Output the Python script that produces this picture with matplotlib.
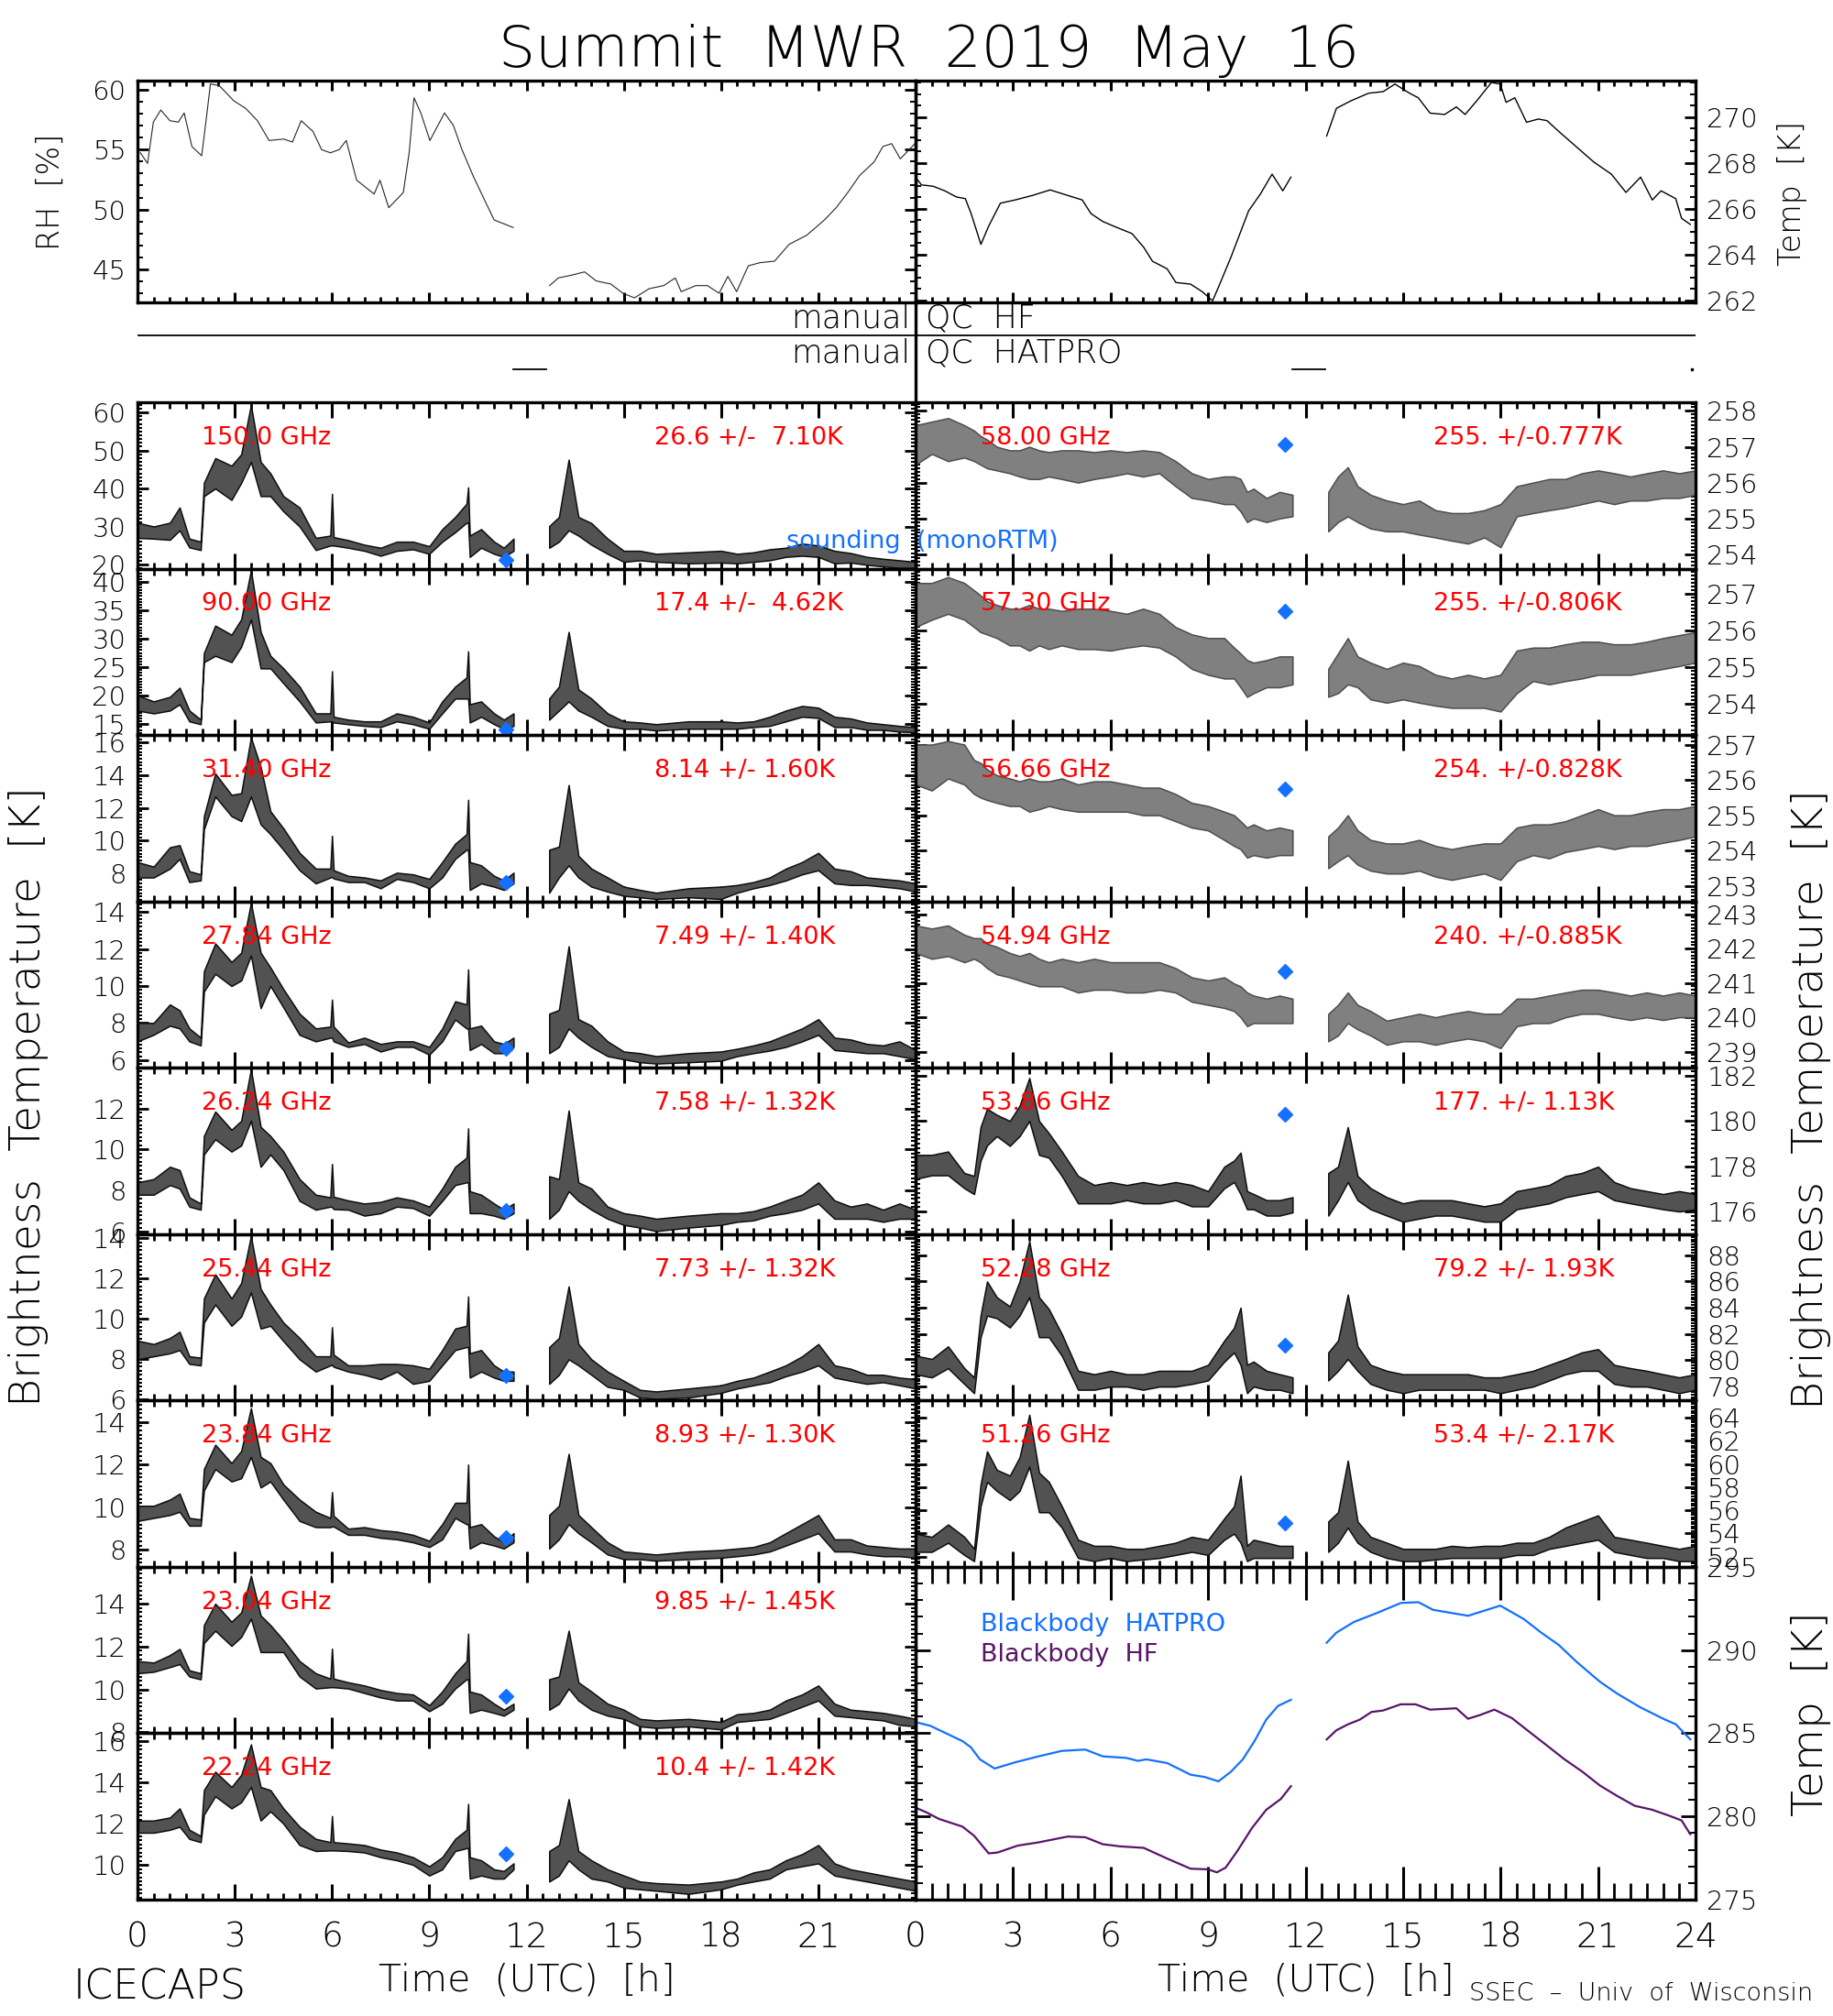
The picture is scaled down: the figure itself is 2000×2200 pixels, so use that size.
import numpy as np
import matplotlib
matplotlib.use("Agg")
import matplotlib.pyplot as plt
from matplotlib.ticker import MultipleLocator, FormatStrFormatter
from matplotlib.lines import Line2D

plt.rcParams['font.family'] = ['DejaVu Sans']
plt.rcParams['font.weight'] = 'light'

# ------------------------------------------------------------------ data
# top panels
rh_t = [0.09, 0.31, 0.49, 0.72, 1.0, 1.26, 1.44, 1.68, 1.98, 2.11, 2.25, 2.52, 2.97, 3.34, 3.70, 4.06, 4.51, 4.78, 5.05, 5.41,
        5.68, 5.95, 6.22, 6.44, 6.76, 7.30, 7.48, 7.75, 8.20, 8.38, 8.53, 8.74, 9.02, 9.47, 9.74, 10.01, 10.37, 10.73, 11.00, 11.36,
        11.59, 12.71, 12.98, 13.43, 13.79, 14.15, 14.60, 14.97, 15.33, 15.78, 16.23, 16.59, 16.77, 17.22, 17.58, 17.94, 18.21,
        18.48, 18.84, 19.20, 19.65, 20.10, 20.64, 21.19, 21.55, 21.91, 22.27, 22.72, 22.99, 23.26, 23.53, 23.80, 23.98]
rh_val = [54.75, 53.86, 57.32, 58.34, 57.44, 57.32, 58.09, 55.27, 54.50, 57.32, 60.52, 60.39, 59.11, 58.47, 57.44, 55.78, 55.90,
          55.65, 57.44, 56.55, 55.01, 54.75, 55.01, 55.78, 52.45, 51.29, 52.45, 50.14, 51.42, 54.75, 59.36, 58.09, 55.78, 58.09,
          57.06, 55.01, 52.71, 50.65, 49.12, 48.73, 48.48, 43.61, 44.25, 44.51, 44.76, 44.0, 43.74, 42.97, 42.58, 43.35, 43.61,
          44.25, 43.1, 43.61, 43.61, 42.97, 44.38, 43.1, 45.27, 45.53, 45.66, 47.07, 47.83, 49.12, 50.14, 51.42, 52.83, 53.98,
          55.27, 55.52, 54.24, 55.01, 55.52]

tair_t = [0, 0.18, 0.54, 0.9, 1.26, 1.53, 1.71, 2.01, 2.25, 2.61, 3.06, 3.6, 4.14, 4.68, 5.13, 5.4, 5.76, 6.12, 6.66, 7.02,
          7.29, 7.74, 8.01, 8.46, 8.82, 9.14, 9.36, 9.71, 10.25, 10.61, 10.97, 11.3, 11.55, 12.65, 12.95, 13.4, 13.94, 14.39,
          14.75, 15.2, 15.47, 15.83, 16.28, 16.64, 16.91, 17.27, 17.72, 17.99, 18.17, 18.44, 18.8, 19.16, 19.43, 19.79, 20.33,
          20.87, 21.41, 21.86, 22.31, 22.67, 22.94, 23.39, 23.57, 23.84]
tair_val = [267.38, 267.04, 266.98, 266.78, 266.51, 266.44, 265.78, 264.44, 265.24, 266.24, 266.38, 266.58, 266.82, 266.58,
            266.38, 265.78, 265.44, 265.22, 264.91, 264.31, 263.70, 263.37, 262.77, 262.70, 262.37, 261.97, 262.70, 263.90,
            265.91, 266.64, 267.51, 266.78, 267.38, 269.18, 270.39, 270.72, 271.05, 271.12, 271.45, 271.05, 270.85, 270.18,
            270.12, 270.45, 270.12, 270.72, 271.52, 271.45, 270.65, 270.85, 269.78, 269.92, 269.85, 269.38, 268.71, 268.04,
            267.51, 266.71, 267.38, 266.38, 266.78, 266.44, 265.58, 265.31]

# QC flags
qc_hf_t = [0, 24]
qc_hatpro_t = [11.6, 12.6]

# blackbody temperatures
bbh_t = [0, 0.45, 1.44, 1.7, 1.98, 2.43, 3.06, 3.78, 4.5, 5.22, 5.76, 6.48, 6.84, 7.1, 7.74, 8.46, 8.9, 9.32, 9.71, 10.07,
         10.43, 10.79, 11.15, 11.55, 12.65, 12.95, 13.49, 14.21, 14.93, 15.47, 15.92, 17.0, 17.99, 18.71, 19.25, 19.79, 20.33,
         21.05, 21.59, 22.31, 23.03, 23.39, 23.84]
bbh_val = [285.67, 285.45, 284.53, 284.16, 283.43, 282.88, 283.25, 283.61, 283.94, 284.02, 283.61, 283.52, 283.34, 283.43,
           283.21, 282.51, 282.37, 282.11, 282.70, 283.43, 284.53, 285.82, 286.64, 287.01, 290.44, 291.05, 291.69, 292.24,
           292.83, 292.88, 292.42, 292.06, 292.67, 291.87, 291.05, 290.31, 289.31, 288.11, 287.38, 286.55, 285.85, 285.54, 284.63]
bbf_t = [0, 0.36, 0.72, 1.44, 1.8, 2.25, 2.52, 3.15, 3.78, 4.68, 5.22, 5.76, 6.3, 7.02, 7.74, 8.46, 9.0, 9.27, 9.54, 9.9,
         10.35, 10.79, 11.24, 11.55, 12.65, 12.95, 13.31, 13.67, 14.03, 14.39, 14.93, 15.38, 15.83, 16.64, 17.0, 17.36, 17.81,
         18.35, 18.89, 19.43, 19.97, 20.51, 21.05, 21.59, 22.13, 22.67, 23.21, 23.57, 23.84]
bbf_val = [280.53, 280.22, 279.85, 279.39, 278.84, 277.78, 277.83, 278.25, 278.44, 278.79, 278.75, 278.33, 278.20, 278.11,
           277.47, 276.86, 276.82, 276.64, 276.92, 277.92, 279.30, 280.40, 281.05, 281.82, 284.63, 285.18, 285.54, 285.82,
           286.28, 286.37, 286.74, 286.74, 286.42, 286.50, 285.87, 286.09, 286.42, 285.91, 285.08, 284.26, 283.43, 282.70,
           281.87, 281.23, 280.64, 280.40, 280.03, 279.76, 278.93]

# HF channels (left column): time grid, lower / upper envelope of the noisy trace
t_left = [0, 0.5, 1.0, 1.3, 1.6, 1.95, 2.05, 2.4, 2.9, 3.2, 3.5, 3.8, 4.1, 4.5, 5.0, 5.5, 5.95, 6.0, 6.05, 6.5, 7.0, 7.5,
          8.0, 8.5, 9.0, 9.4, 9.8, 10.15, 10.2, 10.25, 10.6, 11.0, 11.3, 11.6, 12.7, 13.0, 13.3, 13.6, 14.0, 14.5, 15.0, 15.5,
          16.0, 17.0, 18.0, 18.5, 19.0, 19.5, 20.0, 20.5, 21.0, 21.5, 22.0, 22.5, 23.0, 23.5, 24.0]

tb150_lo = [27, 26.8, 26.5, 29, 24.5, 23.8, 38, 40, 37, 41.5, 47, 38, 38, 34, 30, 23.8, 25, 25, 25, 24.4, 23.6, 22.3, 23.6, 24, 22.8, 26, 28.5, 31, 31, 22, 24.4, 22.8, 22, 23.6, 24.4, 26, 29, 27.6, 25.2, 22.8, 20.7, 21.1, 20.7, 20.3, 20.5, 20.3, 20.7, 21.1, 22, 22.3, 22, 20.3, 20.5, 19.9, 19.5, 19.1, 19.1]
tb150_hi = [31, 30, 31, 35, 26.8, 26, 41.5, 48, 46, 49, 62, 47, 44, 38, 35, 27, 27.6, 38.6, 27.2, 26.4, 25.2, 24.4, 26, 26, 24.8, 29.3, 32.5, 36, 40.3, 27.6, 29.3, 26, 24.4, 26.8, 30.1, 32.5, 47.6, 32.5, 30.9, 26.8, 23.6, 23.6, 22.8, 23.2, 23.6, 22.8, 23.2, 24, 24.4, 25.5, 25, 23.6, 23, 22, 21.5, 21.1, 20.7]
tb90_lo = [17.4, 16.9, 17.4, 18.5, 15.5, 15, 25.9, 27, 25.9, 28.6, 33.4, 24.8, 24.8, 22.2, 19, 15.3, 15.5, 15.5, 15.3, 15, 14.7, 14.5, 15.5, 15, 14.2, 16.9, 19.5, 19.5, 19.5, 15.3, 16.3, 15, 14.2, 14.7, 15.8, 17.4, 19, 17.4, 16.3, 14.7, 14.2, 14.2, 13.9, 14.2, 14.2, 14.2, 14.5, 14.7, 15.5, 16.3, 16.1, 14.5, 14.5, 14, 14, 13.7, 13.6]
tb90_hi = [20.05, 19, 19.8, 21.4, 17.4, 15.8, 27.5, 32.3, 30.7, 33.4, 42, 31.2, 27, 24.8, 21.6, 16.9, 16.9, 24.3, 16.3, 15.8, 15.5, 15.5, 16.9, 16.3, 15.3, 19, 21.6, 23.2, 27.8, 18.5, 19, 16.9, 15.8, 16.9, 19.5, 21.6, 31.2, 21.1, 19.5, 16.9, 15.5, 15.3, 15, 15.5, 15.5, 15.3, 15.5, 16.3, 17.4, 18.2, 17.9, 16.3, 16, 15.3, 15, 14.7, 14.5]
tb314_lo = [7.76, 7.76, 8.3, 8.9, 7.48, 7.58, 10.7, 12.7, 11.5, 11.2, 12.7, 11.0, 10.4, 9.45, 8.2, 7.4, 7.76, 7.8, 7.7, 7.48, 7.48, 7.1, 7.67, 7.48, 7.1, 7.76, 8.9, 9.45, 9.45, 7.0, 7.4, 7.2, 7.0, 7.4, 6.83, 7.76, 8.5, 7.76, 7.2, 6.9, 6.64, 6.55, 6.45, 6.55, 6.45, 6.83, 7.1, 7.3, 7.58, 7.95, 8.2, 7.4, 7.3, 7.3, 7.2, 7.1, 6.9]
tb314_hi = [8.7, 8.42, 9.6, 9.73, 8.14, 7.95, 11.5, 14.1, 12.8, 12.9, 16.3, 14.5, 11.8, 10.76, 9.26, 8.3, 8.3, 10.3, 8.2, 7.86, 7.76, 7.58, 8.05, 7.95, 7.67, 8.7, 9.82, 10.4, 12.5, 8.7, 8.5, 7.86, 7.58, 8.05, 9.45, 9.64, 13.4, 9.08, 8.3, 7.76, 7.2, 7.0, 6.83, 7.1, 7.2, 7.3, 7.48, 7.76, 8.3, 8.7, 9.26, 8.3, 8.14, 7.76, 7.67, 7.58, 7.4]
tb2784_lo = [7.0, 7.36, 7.85, 7.7, 7.0, 6.78, 9.7, 10.66, 10.0, 10.3, 11.65, 8.8, 10.0, 8.84, 7.35, 7.0, 7.2, 7.2, 7.0, 6.7, 6.86, 6.45, 6.7, 6.7, 6.28, 7.0, 8.18, 7.7, 7.7, 6.53, 6.86, 6.36, 6.36, 6.7, 6.36, 6.7, 7.7, 7.2, 6.7, 6.2, 6.03, 5.87, 5.8, 5.87, 5.95, 6.2, 6.36, 6.5, 6.7, 7.0, 7.35, 6.53, 6.45, 6.36, 6.36, 6.2, 6.03]
tb2784_hi = [8.0, 8.0, 9.0, 8.68, 7.7, 7.2, 10.8, 12.3, 11.3, 11.8, 14.5, 11.8, 11.0, 9.83, 8.5, 7.7, 7.8, 9.26, 7.8, 6.94, 7.2, 6.86, 7.0, 7.0, 6.7, 7.7, 9.17, 9.0, 10.9, 7.7, 7.85, 7.0, 6.86, 7.2, 8.5, 8.7, 12.15, 8.2, 7.85, 7.0, 6.45, 6.36, 6.2, 6.36, 6.45, 6.6, 6.78, 7.0, 7.35, 7.7, 8.2, 7.2, 7.1, 6.86, 6.78, 7.0, 6.53]
tb2624_lo = [7.8, 7.8, 8.27, 8.1, 7.22, 7.07, 9.76, 10.5, 9.9, 10.2, 11.4, 9.16, 9.76, 9.0, 7.5, 7.07, 7.22, 7.2, 7.1, 7.07, 6.78, 6.9, 7.22, 7.15, 6.78, 7.5, 8.27, 8.4, 8.4, 6.9, 6.9, 6.78, 6.63, 6.9, 6.63, 7.07, 7.97, 7.5, 7.07, 6.63, 6.33, 6.2, 6.03, 6.2, 6.33, 6.48, 6.55, 6.78, 6.9, 7.07, 7.37, 6.63, 6.63, 6.63, 6.48, 6.63, 6.63]
tb2624_hi = [8.4, 8.56, 9.16, 9.0, 7.67, 7.37, 10.66, 11.85, 10.96, 11.4, 13.9, 11.1, 10.66, 9.9, 8.56, 7.8, 7.67, 9.3, 7.7, 7.52, 7.37, 7.45, 7.67, 7.52, 7.22, 8.1, 9.16, 9.6, 11.03, 7.97, 7.8, 7.37, 7.07, 7.37, 8.7, 8.56, 11.9, 8.4, 8.1, 7.22, 6.9, 6.78, 6.63, 6.78, 6.9, 6.9, 7.0, 7.22, 7.52, 7.8, 8.4, 7.52, 7.22, 7.37, 7.07, 7.37, 7.07]
tb2544_lo = [7.97, 8.12, 8.27, 8.43, 7.74, 7.67, 9.8, 10.7, 9.64, 10.1, 11.3, 9.5, 9.64, 8.88, 7.97, 7.36, 7.67, 7.7, 7.6, 7.36, 7.2, 6.98, 7.36, 6.75, 6.9, 7.67, 8.43, 8.58, 8.58, 7.06, 7.36, 7.06, 6.9, 6.9, 6.75, 7.2, 7.97, 7.67, 7.2, 6.6, 6.45, 6.07, 6.0, 6.07, 6.3, 6.52, 6.68, 6.83, 7.13, 7.36, 7.67, 7.06, 6.9, 6.75, 6.83, 6.68, 6.52]
tb2544_hi = [8.9, 8.73, 9.03, 9.34, 8.12, 8.05, 11.0, 12.2, 11.0, 11.77, 14.1, 11.47, 10.7, 9.8, 9.03, 8.12, 8.12, 9.57, 8.2, 7.67, 7.67, 7.74, 7.74, 7.67, 7.5, 8.43, 9.5, 9.64, 11.1, 8.27, 8.43, 7.67, 7.36, 7.36, 8.58, 9.03, 11.6, 8.73, 7.97, 7.36, 6.9, 6.45, 6.37, 6.52, 6.68, 6.9, 7.06, 7.36, 7.67, 8.12, 8.73, 7.67, 7.5, 7.2, 7.2, 7.06, 6.98]
tb2384_lo = [9.36, 9.5, 9.64, 9.79, 9.14, 9.14, 10.79, 11.79, 11.21, 11.36, 12.36, 10.93, 11.21, 10.36, 9.36, 9.07, 9.07, 9.1, 9.1, 8.71, 8.71, 8.57, 8.5, 8.36, 8.14, 8.5, 9.5, 9.21, 9.21, 8.07, 8.36, 8.21, 8.07, 8.36, 8.07, 8.5, 9.21, 8.79, 8.36, 7.79, 7.57, 7.57, 7.5, 7.57, 7.64, 7.71, 7.79, 7.93, 8.21, 8.5, 8.79, 7.93, 7.93, 7.79, 7.71, 7.71, 7.64]
tb2384_hi = [10.07, 10.07, 10.36, 10.64, 9.5, 9.43, 11.79, 12.93, 12.07, 12.64, 14.64, 12.36, 12.07, 11.07, 10.36, 9.79, 9.5, 10.71, 9.6, 9.0, 9.07, 8.93, 8.86, 8.71, 8.43, 9.21, 10.21, 10.21, 12.0, 9.07, 9.21, 8.64, 8.36, 8.79, 9.64, 10.07, 12.5, 9.64, 9.07, 8.36, 7.93, 7.86, 7.79, 7.93, 8.0, 8.07, 8.14, 8.36, 8.79, 9.21, 9.64, 8.5, 8.5, 8.21, 8.14, 8.07, 8.07]
tb2304_lo = [10.75, 10.82, 11.04, 11.18, 10.6, 10.47, 12.17, 12.74, 12.03, 12.45, 13.3, 11.74, 11.74, 11.74, 10.6, 10.04, 10.1, 10.1, 10.1, 10.04, 9.83, 9.62, 9.48, 9.48, 8.98, 9.33, 10.04, 10.47, 10.47, 8.9, 9.05, 8.9, 8.77, 9.05, 9.05, 9.33, 10.04, 9.48, 9.05, 8.77, 8.62, 8.27, 8.2, 8.27, 8.13, 8.48, 8.55, 8.62, 8.9, 9.19, 9.48, 8.77, 8.7, 8.62, 8.55, 8.34, 8.27]
tb2304_hi = [11.32, 11.25, 11.6, 11.89, 10.89, 10.75, 13.0, 14.0, 13.16, 13.59, 15.3, 13.45, 13.0, 12.3, 11.32, 10.75, 10.5, 11.9, 10.5, 10.33, 10.18, 9.97, 9.83, 9.76, 9.26, 9.9, 10.75, 11.32, 12.6, 9.9, 9.76, 9.33, 9.05, 9.33, 10.47, 10.6, 12.74, 10.33, 9.9, 9.33, 9.05, 8.62, 8.55, 8.62, 8.48, 8.84, 8.9, 9.05, 9.48, 9.76, 10.18, 9.33, 9.05, 8.98, 8.9, 8.77, 8.62]
tb2224_lo = [11.56, 11.56, 11.7, 11.85, 11.26, 11.1, 12.44, 13.33, 12.74, 13.04, 13.78, 12.15, 12.6, 12.0, 10.96, 10.67, 10.7, 10.7, 10.7, 10.67, 10.6, 10.37, 10.22, 10.0, 9.48, 9.78, 10.67, 10.81, 10.81, 9.33, 9.48, 9.33, 9.33, 9.78, 9.19, 9.48, 10.22, 9.78, 9.33, 9.19, 8.89, 8.81, 8.74, 8.59, 8.81, 9.04, 9.19, 9.33, 9.78, 9.93, 10.07, 9.48, 9.33, 9.19, 9.04, 8.89, 8.74]
tb2224_hi = [12.15, 12.15, 12.3, 12.74, 11.7, 11.4, 13.63, 14.52, 13.78, 14.37, 15.85, 13.78, 13.63, 12.74, 11.85, 11.26, 11.1, 12.37, 11.1, 11.04, 10.96, 10.74, 10.6, 10.37, 9.93, 10.37, 11.26, 11.7, 12.96, 10.37, 10.22, 9.78, 9.7, 10.07, 10.67, 10.96, 13.19, 10.67, 10.22, 9.78, 9.48, 9.19, 9.11, 9.04, 9.19, 9.33, 9.63, 9.78, 10.22, 10.52, 10.96, 10.07, 9.78, 9.63, 9.48, 9.33, 9.19]

# HATPRO channels (right column)
t_right = [0, 0.5, 1.0, 1.5, 1.8, 2.0, 2.2, 2.5, 2.9, 3.2, 3.5, 3.8, 4.1, 4.5, 5.0, 5.5, 6.0, 6.5, 7.0, 7.5, 8.0, 8.5, 9.0,
           9.5, 9.8, 10.0, 10.2, 10.4, 10.8, 11.2, 11.6, 12.7, 13.0, 13.3, 13.6, 14.0, 14.5, 15.0, 15.5, 16.0, 16.5, 17.0,
           17.5, 18.0, 18.5, 19.0, 19.5, 20.0, 20.5, 21.0, 21.5, 22.0, 22.5, 23.0, 23.5, 24.0]

tb5800_lo = [256.5, 256.8, 256.6, 256.7, 256.6, 256.5, 256.4, 256.34, 256.26, 256.17, 256.1, 256.1, 256.17, 256.1, 256.0, 256.1, 256.17, 256.26, 256.17, 256.26, 255.9, 255.57, 255.5, 255.4, 255.4, 255.2, 254.9, 255.0, 254.9, 255.0, 255.06, 254.64, 254.9, 255.06, 254.9, 254.72, 254.64, 254.64, 254.55, 254.47, 254.38, 254.3, 254.47, 254.2, 255.06, 255.15, 255.23, 255.3, 255.4, 255.5, 255.4, 255.5, 255.5, 255.57, 255.57, 255.66]
tb5800_hi = [257.6, 257.7, 257.8, 257.6, 257.45, 257.3, 257.2, 257.0, 256.9, 256.9, 257.0, 256.9, 256.85, 256.9, 256.9, 256.85, 256.9, 256.85, 256.9, 256.85, 256.6, 256.26, 256.1, 256.17, 256.17, 256.1, 255.74, 255.83, 255.57, 255.74, 255.66, 255.74, 256.17, 256.43, 255.9, 255.66, 255.5, 255.4, 255.5, 255.23, 255.15, 255.15, 255.23, 255.4, 255.9, 256.0, 256.1, 256.1, 256.26, 256.34, 256.26, 256.17, 256.26, 256.34, 256.26, 256.34]
tb5730_lo = [256.1, 256.3, 256.46, 256.3, 256.1, 255.96, 255.9, 255.8, 255.6, 255.6, 255.46, 255.6, 255.5, 255.6, 255.5, 255.5, 255.46, 255.54, 255.6, 255.54, 255.3, 254.96, 254.8, 254.7, 254.7, 254.46, 254.2, 254.3, 254.46, 254.46, 254.54, 254.2, 254.3, 254.54, 254.46, 254.13, 254.04, 254.13, 254.04, 253.96, 253.9, 253.9, 253.9, 253.8, 254.3, 254.63, 254.54, 254.63, 254.7, 254.8, 254.8, 254.8, 254.88, 254.96, 255.04, 255.13]
tb5730_hi = [257.3, 257.3, 257.46, 257.3, 257.1, 256.96, 256.8, 256.7, 256.6, 256.6, 256.7, 256.6, 256.6, 256.54, 256.6, 256.6, 256.54, 256.46, 256.6, 256.46, 256.1, 255.9, 255.8, 255.8, 255.54, 255.38, 255.2, 255.13, 255.2, 255.3, 255.3, 254.96, 255.38, 255.8, 255.3, 255.13, 254.96, 255.13, 255.04, 254.8, 254.7, 254.8, 254.7, 254.8, 255.46, 255.54, 255.54, 255.63, 255.7, 255.7, 255.63, 255.63, 255.7, 255.8, 255.88, 255.96]
tb5666_lo = [255.87, 255.7, 256.04, 255.87, 255.6, 255.5, 255.43, 255.35, 255.26, 255.26, 255.1, 255.17, 255.26, 255.17, 255.1, 255.1, 255.1, 255.1, 255.0, 255.0, 254.83, 254.65, 254.57, 254.3, 254.13, 254.04, 253.8, 253.87, 253.8, 253.87, 253.87, 253.5, 253.7, 253.87, 253.6, 253.43, 253.35, 253.35, 253.43, 253.26, 253.17, 253.26, 253.35, 253.17, 253.7, 253.87, 253.78, 253.96, 254.04, 254.13, 254.04, 254.13, 254.13, 254.22, 254.3, 254.4]
tb5666_hi = [257.0, 257.0, 257.1, 257.0, 256.56, 256.48, 256.3, 256.13, 256.04, 255.96, 256.04, 255.96, 255.96, 256.04, 255.87, 255.96, 255.96, 255.87, 255.78, 255.78, 255.6, 255.35, 255.26, 255.1, 255.0, 254.83, 254.65, 254.74, 254.57, 254.65, 254.57, 254.4, 254.65, 255.0, 254.57, 254.3, 254.2, 254.2, 254.3, 254.13, 254.04, 254.13, 254.2, 254.2, 254.65, 254.74, 254.74, 254.83, 255.0, 255.17, 255.0, 255.0, 255.1, 255.17, 255.17, 255.26]
tb5494_lo = [241.87, 241.7, 241.78, 241.6, 241.7, 241.6, 241.43, 241.25, 241.16, 241.07, 240.98, 240.9, 240.9, 240.9, 240.72, 240.8, 240.8, 240.72, 240.72, 240.8, 240.72, 240.45, 240.36, 240.27, 240.18, 240.0, 239.74, 239.83, 239.83, 239.83, 239.83, 239.3, 239.47, 239.83, 239.65, 239.47, 239.2, 239.3, 239.3, 239.2, 239.3, 239.38, 239.3, 239.1, 239.74, 239.83, 239.83, 240.0, 240.1, 240.1, 240.0, 239.92, 240.0, 239.92, 240.0, 240.0]
tb5494_hi = [242.67, 242.58, 242.67, 242.4, 242.3, 242.3, 242.14, 242.05, 241.87, 241.78, 241.87, 241.7, 241.6, 241.7, 241.6, 241.7, 241.6, 241.6, 241.6, 241.6, 241.43, 241.16, 241.07, 241.16, 240.98, 240.9, 240.72, 240.63, 240.54, 240.63, 240.54, 240.1, 240.36, 240.72, 240.36, 240.18, 239.9, 240.0, 240.1, 240.0, 240.1, 240.18, 240.1, 240.1, 240.54, 240.54, 240.63, 240.72, 240.8, 240.8, 240.72, 240.63, 240.72, 240.63, 240.72, 240.63]
tb5386_lo = [177.44, 177.6, 177.6, 177.03, 176.77, 178.25, 178.92, 179.33, 178.9, 179.33, 180.0, 178.5, 178.38, 177.57, 176.36, 176.36, 176.36, 176.5, 176.36, 176.36, 176.5, 176.23, 176.23, 177.03, 177.3, 176.77, 176.1, 176.1, 175.82, 175.82, 175.96, 175.82, 176.5, 177.3, 176.5, 176.1, 175.82, 175.55, 175.69, 175.82, 175.82, 175.69, 175.55, 175.55, 176.1, 176.23, 176.36, 176.63, 176.77, 176.9, 176.5, 176.36, 176.23, 176.1, 176.0, 176.1]
tb5386_hi = [178.5, 178.5, 178.65, 177.7, 177.57, 179.73, 180.54, 180.27, 180.0, 180.67, 181.9, 180.0, 179.46, 178.65, 177.57, 177.17, 177.3, 177.17, 177.3, 177.17, 177.3, 177.17, 176.9, 177.98, 178.25, 178.6, 176.9, 176.77, 176.5, 176.5, 176.63, 177.7, 177.98, 179.73, 177.57, 177.03, 176.63, 176.36, 176.5, 176.5, 176.5, 176.36, 176.23, 176.36, 176.9, 177.03, 177.17, 177.57, 177.7, 177.98, 177.3, 177.03, 176.9, 176.77, 176.9, 176.77]
tb5228_lo = [78.94, 78.7, 79.4, 78.2, 77.5, 81.76, 83.4, 83.2, 82.5, 83.4, 84.8, 81.76, 81.76, 80.35, 77.76, 77.76, 78.0, 78.0, 77.76, 78.0, 78.0, 78.2, 78.47, 79.9, 80.6, 79.65, 77.5, 78.0, 77.76, 77.76, 77.5, 78.47, 79.2, 80.1, 79.2, 78.2, 77.76, 77.5, 77.76, 77.76, 77.76, 77.76, 77.76, 77.5, 77.76, 78.0, 78.47, 78.94, 79.2, 79.2, 78.2, 78.0, 78.0, 77.76, 77.5, 77.76]
tb5228_hi = [80.35, 80.1, 81.06, 79.4, 78.7, 83.4, 86.0, 84.8, 84.1, 86.0, 89.06, 84.8, 83.9, 82.0, 79.2, 78.94, 79.2, 78.94, 78.94, 79.2, 79.2, 79.2, 79.65, 81.5, 82.47, 84.0, 79.65, 79.9, 79.2, 78.94, 78.7, 80.6, 81.5, 85.0, 81.06, 79.65, 79.2, 78.94, 78.94, 78.94, 78.94, 78.94, 78.7, 78.7, 78.94, 79.2, 79.65, 80.1, 80.6, 80.85, 79.65, 79.4, 79.2, 78.94, 78.7, 78.94]
tb5126_lo = [52.4, 52.4, 53.19, 52.13, 51.6, 56.35, 58.46, 57.67, 56.88, 57.67, 59.78, 55.83, 55.83, 54.5, 51.87, 51.6, 51.87, 51.6, 51.74, 51.87, 52.13, 52.4, 52.13, 53.45, 53.98, 53.19, 51.6, 51.87, 51.87, 51.87, 51.87, 52.4, 53.19, 54.5, 53.19, 52.4, 51.87, 51.6, 51.6, 51.74, 51.87, 51.87, 51.87, 51.87, 52.13, 52.13, 52.66, 52.92, 53.19, 53.45, 52.4, 52.13, 51.87, 51.87, 51.6, 51.6]
tb5126_hi = [53.98, 53.7, 54.77, 53.7, 52.66, 58.2, 61.1, 59.5, 59.0, 60.58, 64.27, 59.26, 58.46, 56.35, 53.45, 52.92, 52.92, 52.66, 52.66, 52.92, 53.19, 53.7, 53.45, 55.3, 56.35, 59.0, 52.92, 53.45, 53.19, 52.92, 52.92, 55.03, 55.83, 60.3, 55.03, 53.7, 53.19, 52.66, 52.66, 52.66, 52.92, 52.8, 52.92, 52.92, 53.19, 53.19, 53.7, 54.5, 55.03, 55.56, 53.7, 53.45, 53.19, 52.92, 52.66, 52.92]

# labels, sounding values, axis ranges
left_freq = ['150.0 GHz', '90.00 GHz', '31.40 GHz', '27.84 GHz', '26.24 GHz', '25.44 GHz', '23.84 GHz', '23.04 GHz', '22.24 GHz']
left_stats = ['26.6 +/-  7.10K', '17.4 +/-  4.62K', '8.14 +/- 1.60K', '7.49 +/- 1.40K', '7.58 +/- 1.32K',
              '7.73 +/- 1.32K', '8.93 +/- 1.30K', '9.85 +/- 1.45K', '10.4 +/- 1.42K']
left_snd = [21.1, 14.15, 7.47, 6.64, 7.02, 7.17, 8.58, 9.66, 10.53]
left_ylim = [(18.9, 62.7), (13.1, 42.3), (6.3, 16.45), (5.57, 14.58), (5.88, 13.98), (5.92, 14.2), (7.21, 15.0),
             (7.95, 15.72), (8.31, 16.39)]
left_ymaj = [10, 5, 2, 2, 2, 2, 2, 2, 2]

right_freq = ['58.00 GHz', '57.30 GHz', '56.66 GHz', '54.94 GHz', '53.86 GHz', '52.28 GHz', '51.26 GHz']
right_stats = ['255. +/-0.777K', '255. +/-0.806K', '254. +/-0.828K', '240. +/-0.885K', '177. +/- 1.13K',
               '79.2 +/- 1.93K', '53.4 +/- 2.17K']
right_snd = [257.06, 256.54, 255.75, 241.34, 180.29, 81.18, 54.87]
right_ylim = [(253.6, 258.24), (253.16, 257.69), (252.56, 257.27), (238.53, 243.37), (175.0, 182.35), (76.94, 89.6),
              (51.1, 65.5)]
right_ymaj = [1, 1, 1, 1, 2, 2, 2]

sounding_t = 11.36
data_gap = (11.65, 12.6)

xtick_vals = [0, 3, 6, 9, 12, 15, 18, 21, 24]
xtick_text_left = ['0', '3', '6', '9', '12', '15', '18', '21', '']
xtick_text_right = ['0', '3', '6', '9', '12', '15', '18', '21', '24']

left_lo = [tb150_lo, tb90_lo, tb314_lo, tb2784_lo, tb2624_lo, tb2544_lo, tb2384_lo, tb2304_lo, tb2224_lo]
left_hi = [tb150_hi, tb90_hi, tb314_hi, tb2784_hi, tb2624_hi, tb2544_hi, tb2384_hi, tb2304_hi, tb2224_hi]
right_lo = [tb5800_lo, tb5730_lo, tb5666_lo, tb5494_lo, tb5386_lo, tb5228_lo, tb5126_lo]
right_hi = [tb5800_hi, tb5730_hi, tb5666_hi, tb5494_hi, tb5386_hi, tb5228_hi, tb5126_hi]

# ------------------------------------------------------------------ styling
BLUE = '#1470ff'
RED = '#ff0000'
PURPLE = '#581468'

W, H = 2000, 2200
X0, XM, X1 = 150, 999, 1850
TOP0, TOP1 = 88, 330
CH0, CH1 = 439, 2073
NROW = 9
ROWH = (CH1 - CH0) / NROW

fig = plt.figure(figsize=(W / 100, H / 100), dpi=100)


def add_ax(x0, x1, y0, y1):
    return fig.add_axes([x0 / W, 1 - y1 / H, (x1 - x0) / W, (y1 - y0) / H])


def P(v):  # pixels -> points
    return v * 0.72


def style_ax(ax, ylim, ymaj, ymin, side, xl=(17, 7), yl=(12, 5), ysize=21):
    ax.set_xlim(0, 24)
    ax.set_ylim(*ylim)
    ax.xaxis.set_major_locator(MultipleLocator(3))
    ax.xaxis.set_minor_locator(MultipleLocator(0.5))
    ax.yaxis.set_major_locator(MultipleLocator(ymaj))
    ax.yaxis.set_minor_locator(MultipleLocator(ymin))
    ax.yaxis.set_major_formatter(FormatStrFormatter('%d'))
    ax.tick_params(axis='x', which='major', direction='in', length=P(xl[0]), width=2.2,
                   top=True, bottom=True, labelbottom=False)
    ax.tick_params(axis='x', which='minor', direction='in', length=P(xl[1]), width=2.0, top=True, bottom=True)
    ax.tick_params(axis='y', which='major', direction='in', length=P(yl[0]), width=2.0, left=True, right=True,
                   labelleft=(side == 'left'), labelright=(side == 'right'), labelsize=ysize, pad=9)
    ax.tick_params(axis='y', which='minor', direction='in', length=P(yl[1]), width=1.4, left=True, right=True)
    for s in ax.spines.values():
        s.set_linewidth(2.4)
    ax.patch.set_alpha(0)


def segments(t):
    t = np.asarray(t, dtype=float)
    before = np.where(t <= data_gap[0])[0]
    after = np.where(t >= data_gap[1])[0]
    return [s for s in (before, after) if len(s)]


def draw_band(ax, t, lo, hi, face, edge):
    t = np.asarray(t, float); lo = np.asarray(lo, float); hi = np.asarray(hi, float)
    for s in segments(t):
        ax.fill_between(t[s], lo[s], hi[s], facecolor=face, edgecolor=edge, lw=1.1, zorder=2)


def draw_line(ax, t, v, color, lw):
    t = np.asarray(t, float); v = np.asarray(v, float)
    for s in segments(t):
        ax.plot(t[s], v[s], color=color, lw=lw, zorder=2)


# ------------------------------------------------------------------ top panels
ax_rh = add_ax(X0, XM, TOP0, TOP1)
style_ax(ax_rh, (42.2, 60.8), 5, 1, 'left', xl=(11, 6), yl=(12, 6))
draw_line(ax_rh, rh_t, rh_val, '0.15', 0.8)

ax_ta = add_ax(XM, X1, TOP0, TOP1)
style_ax(ax_ta, (261.9, 271.6), 2, 0.5, 'right', xl=(11, 6), yl=(12, 6))
draw_line(ax_ta, tair_t, tair_val, 'k', 1.0)

# QC rows
for (xa, xb) in [(X0, XM), (XM, X1)]:
    axq = add_ax(xa, xb, TOP1, CH0)
    axq.set_xlim(0, 24)
    axq.set_ylim(-1, 2)
    axq.axis('off')
    axq.plot(qc_hatpro_t, [0, 0], color='k', lw=1.3)
axq_all = add_ax(X0, X1, TOP1, CH0)
axq_all.set_xlim(0, 48)
axq_all.set_ylim(-1, 2)
axq_all.axis('off')
axq_all.plot([qc_hf_t[0], qc_hf_t[1] * 2], [1, 1], color='k', lw=1.3)
axq_all.plot([47.9], [0], marker='s', ms=1.5, color='k')
fig.add_artist(Line2D([XM / W, XM / W], [1 - TOP1 / H, 1 - CH0 / H], color='k', lw=2.4))

fig.text(993 / W, 1 - 358 / H, 'manual', ha='right', va='baseline', fontsize=25)
fig.text(1010 / W, 1 - 358 / H, 'QC  HF', ha='left', va='baseline', fontsize=25)
fig.text(993 / W, 1 - 396 / H, 'manual', ha='right', va='baseline', fontsize=25)
fig.text(1010 / W, 1 - 396 / H, 'QC  HATPRO', ha='left', va='baseline', fontsize=25)

# ------------------------------------------------------------------ channel panels
LBL = dict(fontsize=19.5, ha='left', va='baseline', zorder=5, fontweight='normal')
for i in range(NROW):
    y0 = CH0 + i * ROWH
    ax = add_ax(X0, XM, y0, y0 + ROWH)
    style_ax(ax, left_ylim[i], left_ymaj[i], left_ymaj[i] / 10, 'left')
    draw_band(ax, t_left, left_lo[i], left_hi[i], '0.32', '0.05')
    ax.plot([sounding_t], [left_snd[i]], marker='D', ms=8.5, color=BLUE, zorder=4)
    ax.text(0.083, 0.747, left_freq[i], transform=ax.transAxes, color=RED, **LBL)
    ax.text(0.664, 0.747, left_stats[i], transform=ax.transAxes, color=RED, **LBL)
    if i == NROW - 1:
        ax.set_xticks(xtick_vals, labels=xtick_text_left)
        ax.tick_params(axis='x', which='major', labelbottom=True, labelsize=27, pad=17)

for i in range(len(right_freq)):
    y0 = CH0 + i * ROWH
    ax = add_ax(XM, X1, y0, y0 + ROWH)
    style_ax(ax, right_ylim[i], right_ymaj[i], right_ymaj[i] / 10, 'right')
    if i < 4:
        draw_band(ax, t_right, right_lo[i], right_hi[i], '0.5', '0.3')
    else:
        draw_band(ax, t_right, right_lo[i], right_hi[i], '0.32', '0.05')
    ax.plot([sounding_t], [right_snd[i]], marker='D', ms=8.5, color=BLUE, zorder=4)
    ax.text(0.083, 0.747, right_freq[i], transform=ax.transAxes, color=RED, **LBL)
    ax.text(0.664, 0.747, right_stats[i], transform=ax.transAxes, color=RED, **LBL)

# blackbody panel (two rows)
ax_bb = add_ax(XM, X1, CH0 + 7 * ROWH, CH1)
style_ax(ax_bb, (275, 295), 5, 1, 'right', xl=(36, 18), yl=(16, 8))
draw_line(ax_bb, bbh_t, bbh_val, BLUE, 1.6)
draw_line(ax_bb, bbf_t, bbf_val, PURPLE, 1.6)
ax_bb.set_xticks(xtick_vals, labels=xtick_text_right)
ax_bb.tick_params(axis='x', which='major', labelbottom=True, labelsize=27, pad=17)
ax_bb.text(0.083, 0.807, 'Blackbody  HATPRO', transform=ax_bb.transAxes, color=BLUE, fontsize=19.5,
           ha='left', va='baseline', fontweight='normal')
ax_bb.text(0.083, 0.716, 'Blackbody  HF', transform=ax_bb.transAxes, color=PURPLE, fontsize=19.5,
           ha='left', va='baseline', fontweight='normal')

# ------------------------------------------------------------------ figure texts
fig.text(858 / W, 1 - 598 / H, 'sounding  (monoRTM)', color=BLUE, fontsize=19.5, ha='left', va='baseline', zorder=10,
         fontweight='normal')
fig.text(1014 / W, 1 - 73 / H, 'Summit  MWR  2019  May  16', ha='center', va='baseline', fontsize=45.5)
fig.text(55 / W, 1 - 209 / H, 'RH  [%]', rotation=90, ha='center', va='center', fontsize=24)
fig.text(1955 / W, 1 - 211 / H, 'Temp  [K]', rotation=90, ha='center', va='center', fontsize=24)
fig.text(31 / W, 1 - 1197 / H, 'Brightness  Temperature  [K]', rotation=90, ha='center', va='center', fontsize=34)
fig.text(1976 / W, 1 - 1200 / H, 'Brightness  Temperature  [K]', rotation=90, ha='center', va='center', fontsize=34)
fig.text(1976 / W, 1 - 1870 / H, 'Temp  [K]', rotation=90, ha='center', va='center', fontsize=34)
fig.text(574.5 / W, 1 - 2173 / H, 'Time  (UTC)  [h]', ha='center', va='baseline', fontsize=29.5)
fig.text(1424.5 / W, 1 - 2173 / H, 'Time  (UTC)  [h]', ha='center', va='baseline', fontsize=29.5)
fig.text(80 / W, 1 - 2182 / H, 'ICECAPS', ha='left', va='baseline', fontsize=32)
fig.text(1603 / W, 1 - 2183 / H, 'SSEC  \u2013  Univ  of  Wisconsin', ha='left', va='baseline', fontsize=19.5)

fig.savefig('out.png', dpi=100, facecolor='white')
